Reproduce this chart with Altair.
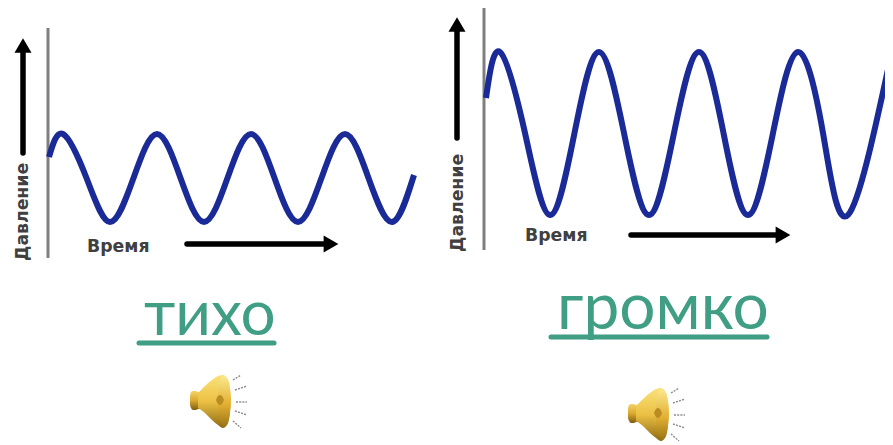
import altair as alt
import pandas as pd

X_DOMAIN = [8, 885]
Y_DOMAIN = [445, 8]

wave_left_x = [49, 63, 86.5, 110, 133.5, 157, 180.5, 204, 227.5, 251, 274.5, 298, 321.5, 345, 368.5, 392, 414]
wave_left_y = [157, 134, 178, 222, 178, 134, 178, 222, 178, 134, 178, 222, 178, 134, 178, 222, 175]
wave_right_x = [486, 500, 525, 550, 574.5, 599, 624, 649, 674, 699, 723.5, 748, 773, 798, 823, 848, 890]
wave_right_y = [98, 52, 133, 215, 133, 52, 133, 215, 133, 52, 133, 215, 133, 52, 133, 215, 60]

axis_rules = [
    {"x": 48, "y": 28, "x2": 48, "y2": 258},
    {"x": 484, "y": 7, "x2": 484, "y2": 250},
]
arrow_rules = [
    {"x": 23, "y": 153, "x2": 23, "y2": 50},
    {"x": 457, "y": 138, "x2": 457, "y2": 30},
    {"x": 187, "y": 244, "x2": 328, "y2": 244},
    {"x": 631, "y": 235, "x2": 780, "y2": 235},
]
up_heads = [{"x": 23, "y": 45.5}, {"x": 457, "y": 24.5}]
right_heads = [{"x": 331, "y": 244}, {"x": 783, "y": 235}]

small_labels = [
    {"x": 87, "y": 252, "t": "Время", "a": 0},
    {"x": 525, "y": 241, "t": "Время", "a": 0},
    {"x": 28, "y": 261, "t": "Давление", "a": 270},
    {"x": 463, "y": 252, "t": "Давление", "a": 270},
]
big_labels = [
    {"x": 144, "y": 335, "t": "тихо", "s": 62},
    {"x": 557, "y": 329, "t": "громко", "s": 64},
]
underlines = [
    {"x": 139, "y": 343, "x2": 274, "y2": 343},
    {"x": 551, "y": 337, "x2": 767, "y2": 337},
]

neck_x = [190, 191, 193, 196, 198, 200]
neck_top = [396, 392, 391, 391, 392, 392]
neck_bot = [405, 408, 410, 410, 409, 409]
cone_x = [198, 205, 212, 218, 223, 227, 230, 231]
cone_top = [393, 386, 380, 376, 375, 378, 388, 400]
cone_bot = [408, 413, 420, 425, 428, 425, 413, 400]
bell_x = [218, 221, 224, 227, 230, 231]
bell_top = [385, 378, 376, 379, 389, 400]
bell_bot = [415, 423, 427, 424, 412, 400]
dome_x = [216, 218, 220, 222, 224]
dome_top = [400, 396, 395, 396, 400]
dome_bot = [400, 404, 405, 404, 400]
offset_x, offset_y = 438, 13
rays = [
    {"x": 233, "y": 380, "x2": 241, "y2": 375},
    {"x": 235, "y": 390, "x2": 247, "y2": 386},
    {"x": 236, "y": 402, "x2": 247, "y2": 402},
    {"x": 235, "y": 411, "x2": 247, "y2": 415},
    {"x": 233, "y": 421, "x2": 241, "y2": 428},
]

INK = "#3f9e84"
NAVY = "#1a2a96"

sx = alt.Scale(domain=X_DOMAIN, nice=False, zero=False)
sy = alt.Scale(domain=Y_DOMAIN, nice=False, zero=False)
X = alt.X("x:Q", scale=sx, axis=None)
Y = alt.Y("y:Q", scale=sy, axis=None)


def wave(xs, ys):
    return alt.Chart(pd.DataFrame({"x": xs, "y": ys})).mark_line(
        color=NAVY, strokeWidth=6, interpolate="natural", strokeCap="butt", clip=False
    ).encode(x=X, y=Y)


def rules(rows, color, width, cap="butt", dash=None):
    kw = {"strokeDash": dash} if dash else {}
    return alt.Chart(pd.DataFrame(rows)).mark_rule(
        color=color, strokeWidth=width, strokeCap=cap, **kw
    ).encode(x=X, y=Y, x2="x2:Q", y2="y2:Q")


def heads(rows, shape):
    return alt.Chart(pd.DataFrame(rows)).mark_point(
        shape=shape, filled=True, color="black", opacity=1, size=290
    ).encode(x=X, y=Y)


def area(xs, tops, bots, dx, dy, fill):
    df = pd.DataFrame({
        "x": [v + dx for v in xs],
        "y": [v + dy for v in tops],
        "y2": [v + dy for v in bots],
    })
    return alt.Chart(df).mark_area(fill=fill, interpolate="monotone").encode(x=X, y=Y, y2="y2:Q")


def gradient(stops):
    return alt.Gradient(
        gradient="linear", x1=0, x2=0, y1=0, y2=1,
        stops=[alt.GradientStop(color=c, offset=o) for o, c in stops],
    )


def speaker(dx, dy):
    ray_rows = [
        {"x": r["x"] + dx, "y": r["y"] + dy, "x2": r["x2"] + dx, "y2": r["y2"] + dy}
        for r in rays
    ]
    return [
        area(neck_x, neck_top, neck_bot, dx, dy,
             gradient([(0, "#f3d469"), (0.5, "#d9a92f"), (1, "#7f5d10")])),
        area(cone_x, cone_top, cone_bot, dx, dy,
             gradient([(0, "#f9e27a"), (0.5, "#ecc044"), (1, "#8d6a12")])),
        area(bell_x, bell_top, bell_bot, dx, dy,
             gradient([(0, "#fbe88e"), (0.55, "#e2b032"), (1, "#9a7415")])),
        area(dome_x, dome_top, dome_bot, dx, dy, "#b98d22"),
        rules(ray_rows, "#8d8d8d", 1.4, dash=[2, 1.2]),
    ]


small = alt.Chart(pd.DataFrame(small_labels))
layers = [
    rules(axis_rules, "#7f7f7f", 3),
    wave(wave_left_x, wave_left_y),
    wave(wave_right_x, wave_right_y),
    rules(arrow_rules, "black", 5.5, cap="round"),
    heads(up_heads, "triangle-up"),
    heads(right_heads, "triangle-right"),
    small.transform_filter("datum.a == 0").mark_text(
        font="DejaVu Sans", fontWeight="bold", fontSize=17.3, color="#404040",
        align="left", baseline="alphabetic"
    ).encode(x=X, y=Y, text="t:N"),
    small.transform_filter("datum.a == 270").mark_text(
        font="DejaVu Sans", fontWeight="bold", fontSize=17.3, color="#404040",
        align="left", baseline="alphabetic", angle=270
    ).encode(x=X, y=Y, text="t:N"),
    alt.Chart(pd.DataFrame(big_labels)).mark_text(
        font="Lato", color=INK, align="left", baseline="alphabetic"
    ).encode(x=X, y=Y, text="t:N", size=alt.Size("s:Q", scale=None, legend=None)),
    rules(underlines, INK, 5, cap="round"),
    *speaker(0, 0),
    *speaker(offset_x, offset_y),
]

chart = alt.layer(*layers).properties(
    width=877, height=437, padding=0, autosize=alt.AutoSizeParams(type="none"),
    background="white",
).configure_view(stroke=None)

chart.save("out.html", embed_options={"renderer": "svg", "actions": False})
